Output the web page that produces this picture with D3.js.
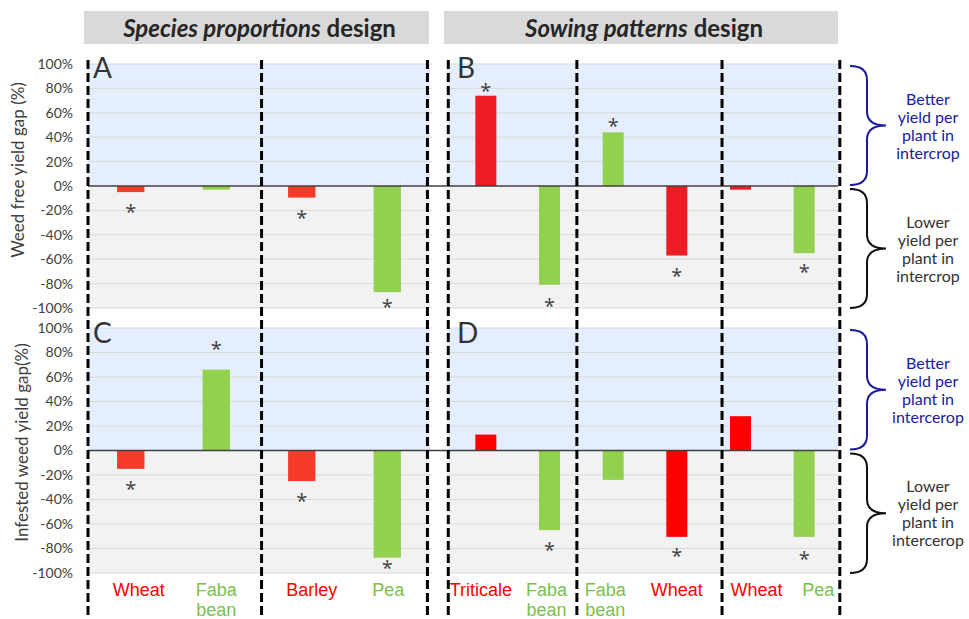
<!DOCTYPE html>
<html>
<head>
<meta charset="utf-8">
<script src="https://cdn.jsdelivr.net/npm/d3@7"></script>
<style>
  body { margin: 0; background: #fff; }
  svg { display: block; }
</style>
</head>
<body>
<svg id="chart"></svg>
<script>
'use strict';

// species proportions design (panels A and C)
const spCats = ["Wheat", "Faba bean", "Barley", "Pea"];
const spCrop = ["cereal", "legume", "cereal", "legume"];
const spWeedFree = [-5, -3, -9.5, -87];
const spWeedFreeStar = [-19, null, -24, -97];
const spInfested = [-15, 66, -25, -87.5];
const spInfestedStar = [-29, 85, -39, -93.5];

// sowing patterns design (panels B and D)
const swCats = ["Triticale", "Faba bean", "Faba bean", "Wheat", "Wheat", "Pea"];
const swCrop = ["cereal", "legume", "legume", "cereal", "cereal", "legume"];
const swWeedFree = [74, -81, 44, -57, -3, -55];
const swWeedFreeStar = [80, -95.5, 52, -71, null, -68];
const swInfested = [13, -65, -24, -70.5, 28, -70.5];
const swInfestedStar = [null, -79, null, -84, null, -86];

const yTicks = [-100, -80, -60, -40, -20, 0, 20, 40, 60, 80, 100];
// group separators, in category units
const spSeparators = [0, 2.03, 3.97];
const swSeparators = [-0.09, 1.93, 4.21, 6.06];

const width = 969;
const height = 619;
const BLUE_BG = "#e5eefc";
const GREY_BG = "#f2f2f2";
const GRID = "#d9d9d9";
const TEXT = "#404040";
const FONT = "Lato, 'Open Sans', sans-serif";
// the category labels sit a little off the bar centres in the original
const LABEL_NUDGE = [[8, 0, 10, 1], [-5, -3, -8, 0, 16, 14]];

var svg = d3.select("#chart").attr("width", width).attr("height", height);

var rows = [
    {y: d3.scaleLinear().domain([-100, 100]).range([308, 64]), letters: ["A", "B"],
        sp: spWeedFree, spStar: spWeedFreeStar, sw: swWeedFree, swStar: swWeedFreeStar,
        title: "Weed free yield gap (%)", titleX: 18, word: "intercrop"},
    {y: d3.scaleLinear().domain([-100, 100]).range([573, 328]), letters: ["C", "D"],
        sp: spInfested, spStar: spInfestedStar, sw: swInfested, swStar: swInfestedStar,
        title: "Infested weed yield gap(%)", titleX: 22, word: "intercerop"}
];

var panels = [
    {x: d3.scaleBand().domain(d3.range(spCats.length)).range([88, 430]),
        cats: spCats, crop: spCrop, left: 88, right: 430, barW: 0.32,
        red: ["#f53b25", "#f73b2a"], sep: spSeparators, valueKey: "sp", starKey: "spStar"},
    {x: d3.scaleBand().domain(d3.range(swCats.length)).range([454, 836]),
        cats: swCats, crop: swCrop, left: 447, right: 838, barW: 0.33,
        red: ["#ed1c24", "#ff0000"], sep: swSeparators, valueKey: "sw", starKey: "swStar"}
];

// header boxes
var headers = [
    {x0: 84, x1: 429, it: "Species proportions", rest: " design"},
    {x0: 444, x1: 838, it: "Sowing patterns", rest: " design"}
];
headers.forEach(function (h) {
    svg.append("rect")
        .attr("x", h.x0).attr("y", 11)
        .attr("width", h.x1 - h.x0).attr("height", 33)
        .attr("fill", "#d9d9d9");
    var t = svg.append("text")
        .attr("x", (h.x0 + h.x1) / 2 + 3).attr("y", 37)
        .attr("text-anchor", "middle")
        .attr("font-family", FONT).attr("font-size", 24).attr("font-weight", 700)
        .attr("fill", "#262626");
    t.append("tspan").attr("font-style", "italic").text(h.it);
    t.append("tspan").text(h.rest);
});

rows.forEach(function (row, ri) {
    var y = row.y;
    var y0 = y(0);

    panels.forEach(function (p, pi) {
        var g = svg.append("g");
        g.append("rect")
            .attr("x", p.left).attr("y", y(100))
            .attr("width", p.right - p.left).attr("height", y0 - y(100))
            .attr("fill", BLUE_BG);
        g.append("rect")
            .attr("x", p.left).attr("y", y0)
            .attr("width", p.right - p.left).attr("height", y(-100) - y0)
            .attr("fill", GREY_BG);
        g.selectAll(".grid")
            .data(yTicks.filter(function (d) { return d !== 0; }))
            .enter().append("line")
            .attr("x1", p.left).attr("x2", p.right + 2)
            .attr("y1", function (d) { return y(d); })
            .attr("y2", function (d) { return y(d); })
            .attr("stroke", GRID).attr("stroke-width", 1);

        var values = row[p.valueKey];
        var stars = row[p.starKey];
        var bw = p.x.step() * p.barW;

        g.selectAll(".bar")
            .data(values)
            .enter().append("rect")
            .attr("x", function (d, i) { return p.x(i) + p.x.bandwidth() / 2 - bw / 2; })
            .attr("width", bw)
            .attr("y", function (d) { return Math.min(y(d), y0); })
            .attr("height", function (d) { return Math.abs(y(d) - y0); })
            .attr("fill", function (d, i) { return p.crop[i] === "cereal" ? p.red[ri] : "#92d050"; });

        stars.forEach(function (s, i) {
            if (s === null) return;
            g.append("text")
                .attr("x", p.x(i) + p.x.bandwidth() / 2)
                .attr("y", y(s) + 10)
                .attr("text-anchor", "middle")
                .attr("font-family", "'Open Sans', sans-serif").attr("font-size", 20)
                .attr("fill", TEXT)
                .text("*");
        });

        // panel letter
        g.append("text")
            .attr("x", p.left + (pi === 0 ? 5 : 10)).attr("y", y(100) + (ri === 0 ? 14 : 15))
            .attr("font-family", FONT).attr("font-size", 28)
            .attr("fill", "#333")
            .text(row.letters[pi]);
    });

    // zero line across both designs
    svg.append("line")
        .attr("x1", 88).attr("x2", 838)
        .attr("y1", y0).attr("y2", y0)
        .attr("stroke", "#404040").attr("stroke-width", 1.5);

    // y axis
    var axis = svg.append("g")
        .attr("transform", "translate(76,0)")
        .call(d3.axisLeft(y).tickValues(yTicks).tickSize(0).tickPadding(3)
            .tickFormat(function (d) { return d + "%"; }));
    axis.select(".domain").remove();
    axis.selectAll("text")
        .attr("font-family", FONT).attr("font-size", 14).attr("fill", TEXT);

    svg.append("text")
        .attr("transform", "translate(" + row.titleX + "," + ((y(100) + y(-100)) / 2 - 16 + ri * 8) + ") rotate(-90)")
        .attr("text-anchor", "middle").attr("dy", "0.35em")
        .attr("font-family", FONT).attr("font-size", 17).attr("fill", TEXT)
        .text(row.title);

    // braces on the right
    drawBrace(y(100) + 2, y0 - 1, "#1a1a9c",
        ["Better", "yield per", "plant in", row.word]);
    drawBrace(y0 + 3, y(-100), "#111",
        ["Lower", "yield per", "plant in", row.word], "#333");
});

// dashed group separators and category labels
panels.forEach(function (p, pi) {
    var n = p.cats.length;
    var xs = d3.scaleLinear().domain([0, n]).range(p.x.range());
    svg.selectAll(null)
        .data(p.sep)
        .enter().append("line")
        .attr("x1", function (d) { return xs(d); })
        .attr("x2", function (d) { return xs(d); })
        .attr("y1", 60).attr("y2", height)
        .attr("stroke", "#000").attr("stroke-width", 3)
        .attr("stroke-dasharray", "9,4");

    var lab = svg.selectAll(null)
        .data(p.cats)
        .enter().append("text")
        .attr("text-anchor", "middle")
        .attr("font-family", "'Liberation Sans', Arial, sans-serif").attr("font-size", 18)
        .attr("fill", function (d, i) { return p.crop[i] === "cereal" ? "#ff0000" : "#79c14b"; });
    lab.each(function (d, i) {
        var cx = p.x(i) + p.x.bandwidth() / 2 + LABEL_NUDGE[pi][i];
        d.split(" ").forEach(function (w, j) {
            d3.select(this).append("tspan")
                .attr("x", cx).attr("y", 596 + j * 20)
                .text(w);
        }, this);
    });
});

function drawBrace(top, bottom, color, lines, textColor) {
    var x0 = 850, xv = 867, xt = 886, r = 14;
    var ym = (top + bottom) / 2;
    var d = "M" + x0 + "," + top +
        " Q" + xv + "," + top + " " + xv + "," + (top + r) +
        " L" + xv + "," + (ym - r) +
        " Q" + xv + "," + ym + " " + xt + "," + ym +
        " Q" + xv + "," + ym + " " + xv + "," + (ym + r) +
        " L" + xv + "," + (bottom - r) +
        " Q" + xv + "," + bottom + " " + x0 + "," + bottom;
    svg.append("path")
        .attr("d", d)
        .attr("fill", "none")
        .attr("stroke", color).attr("stroke-width", 2);
    var t = svg.append("text")
        .attr("text-anchor", "middle")
        .attr("font-family", FONT).attr("font-size", 16)
        .attr("fill", textColor || color);
    lines.forEach(function (l, i) {
        t.append("tspan")
            .attr("x", 928)
            .attr("y", ym - 27 + i * 18 + 6)
            .text(l);
    });
}
</script>
</body>
</html>
